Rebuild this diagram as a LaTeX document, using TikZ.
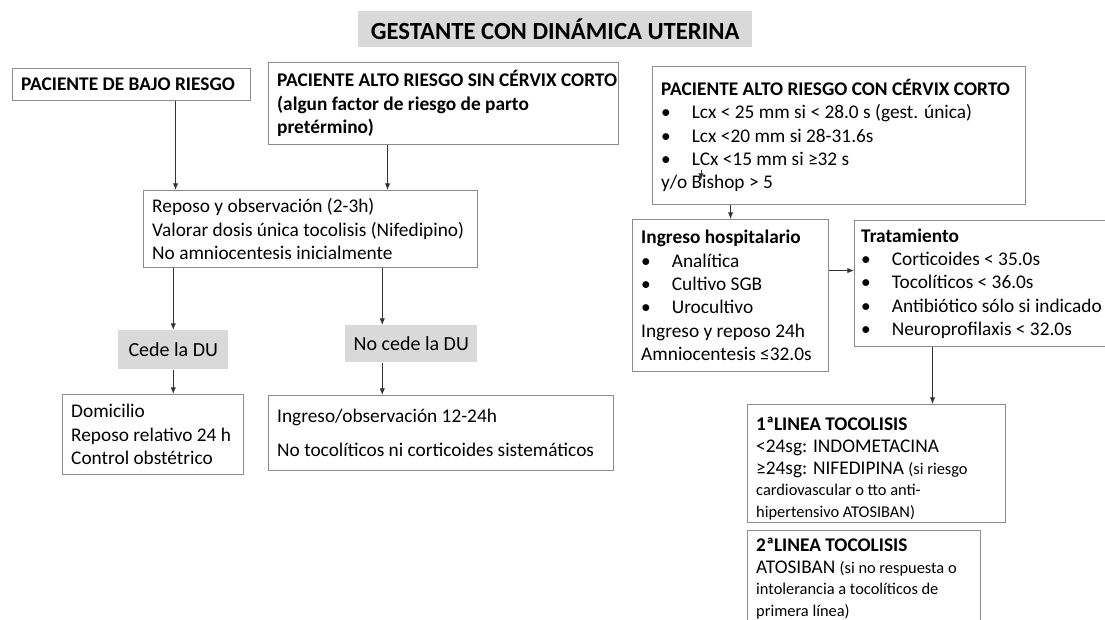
\documentclass[tikz,border=0pt]{standalone}
\usepackage{fontspec}
\setmainfont{Carlito}
\usetikzlibrary{arrows.meta,positioning}
\definecolor{linegray}{HTML}{8C8C8C}
\definecolor{fillgray}{HTML}{D9D9D9}
\newcommand{\bul}[1]{\makebox[23pt][l]{•}#1}
\newcommand{\chico}{\fontsize{12.3}{15.8}\selectfont}

\begin{document}
\begin{tikzpicture}[x=0.75pt,y=-0.75pt,
	caja/.style={draw=linegray,line width=0.8pt,fill=white,anchor=north west,
		align=flush left,inner xsep=6.5pt,inner ysep=2pt,
		font=\fontsize{14.5}{17.5}\selectfont},
	gris/.style={fill=fillgray,anchor=north west,align=center,inner sep=0pt,
		font=\fontsize{15}{18}\selectfont},
	flecha/.style={draw=black!80,line width=0.7pt,-{Latex[length=5pt,width=4pt]}}]
	\clip (0,0) rectangle (1105,620);
	\fill[white] (0,0) rectangle (1105,620);
	% titulo
	\node[gris,minimum width=295.5pt,minimum height=27pt,
		font=\fontsize{18.5}{20}\selectfont\bfseries] (tit) at (358,11) {GESTANTE CON DINÁMICA UTERINA};
	% fila superior
	\node[caja,text width=165.5pt,minimum height=24pt] (bajo) at (12,68) {\textbf{PACIENTE DE BAJO RIESGO}};
	\node[caja,text width=249.5pt,minimum height=61.5pt] (sin) at (268,62)
		{\mbox{\textbf{PACIENTE ALTO RIESGO SIN CÉRVIX CORTO}}\\
		\textbf{(algun factor de riesgo de parto}\\
		\textbf{pretérmino)}};
	\node[caja,text width=266.75pt,minimum height=103.5pt] (con) at (652,66)
		{\mbox{\textbf{PACIENTE ALTO RIESGO CON CÉRVIX CORTO}}\\
		\bul{Lcx < 25 mm si < 28.0 s (gest. única)}\\
		\bul{Lcx <20 mm si 28-31.6s}\\
		\bul{LCx <15 mm si ≥32 s}\\
		y/o Bishop > 5};
	% rama izquierda
	\node[caja,text width=237.5pt,minimum height=57.75pt] (reposo) at (143,190)
		{Reposo y observación (2-3h)\\
		Valorar dosis única tocolisis (Nifedipino)\\
		No amniocentesis inicialmente};
	\node[gris,minimum width=82.5pt,minimum height=29.25pt] (cede) at (118,330) {Cede la DU};
	\node[gris,minimum width=99pt,minimum height=27.75pt] (nocede) at (345,325) {No cede la DU};
	\node[caja,text width=122.75pt,minimum height=60pt] (domi) at (62,394)
		{Domicilio\\
		Reposo relativo 24 h\\
		Control obstétrico};
	\node[caja,text width=245.75pt,minimum height=56.25pt] (obs) at (268,395)
		{Ingreso/observación 12-24h\\[8pt]
		No tocolíticos ni corticoides sistemáticos};
	% rama derecha
	\node[caja,text width=134pt,minimum height=114pt] (hosp) at (632,219)
		{\textbf{Ingreso hospitalario}\\
		\bul{Analítica}\\
		\bul{Cultivo SGB}\\
		\bul{Urocultivo}\\
		Ingreso y reposo 24h\\
		Amniocentesis ≤32.0s};
	\node[caja,text width=200pt,minimum height=94.5pt,inner xsep=5pt] (trat) at (854,220)
		{\textbf{Tratamiento}\\
		\bul{Corticoides < 35.0s}\\
		\bul{Tocolíticos < 36.0s}\\
		\bul{Antibiótico sólo si indicado}\\
		\bul{Neuroprofilaxis < 32.0s}};
	\node[caja,text width=180.5pt,minimum height=88.5pt,
		font=\fontsize{14.5}{16.5}\selectfont] (linea1) at (747,404)
		{\rule{0pt}{17pt}\textbf{1ªLINEA TOCOLISIS}\\
		<24sg: INDOMETACINA\\
		≥24sg: NIFEDIPINA {\chico(si riesgo}\\
		{\chico cardiovascular o tto anti-\\
		hipertensivo ATOSIBAN)}};
	\node[caja,text width=161.75pt,minimum height=72pt,
		font=\fontsize{14.5}{16.5}\selectfont] (linea2) at (747,530)
		{\textbf{2ªLINEA TOCOLISIS}\\
		ATOSIBAN {\chico(si no respuesta o}\\
		{\chico intolerancia a tocolíticos de\\
		primera línea)}};
	\coordinate (marca) at ([xshift=36.75pt,yshift=-78pt]con.north west);
	% conectores
	\draw[flecha] ([xshift=33pt]bajo.south) -- ([xshift=33pt]bajo.south |- reposo.north);
	\draw[flecha] ([xshift=-42pt]sin.south) -- ([xshift=-42pt]sin.south |- reposo.north);
	\draw[flecha] (reposo.south -| cede.north) -- (cede.north);
	\draw[flecha] ([xshift=-21.75pt]nocede.north |- reposo.south) -- ([xshift=-21.75pt]nocede.north);
	\draw[flecha] (cede.south) -- (cede.south |- domi.north);
	\draw[flecha] ([xshift=-21.75pt]nocede.south) -- ([xshift=-21.75pt]nocede.south |- obs.north);
	\draw[flecha] (hosp.north |- con.south) -- (hosp.north);
	\draw[flecha] ([yshift=18.75pt]hosp.east) -- ([yshift=18.75pt]hosp.east -| trat.west);
	\draw[flecha] ([xshift=42pt]linea1.north |- trat.south) -- ([xshift=42pt]linea1.north);
	\draw[flecha] (marca) -- ++(0,10);
\end{tikzpicture}
\end{document}
